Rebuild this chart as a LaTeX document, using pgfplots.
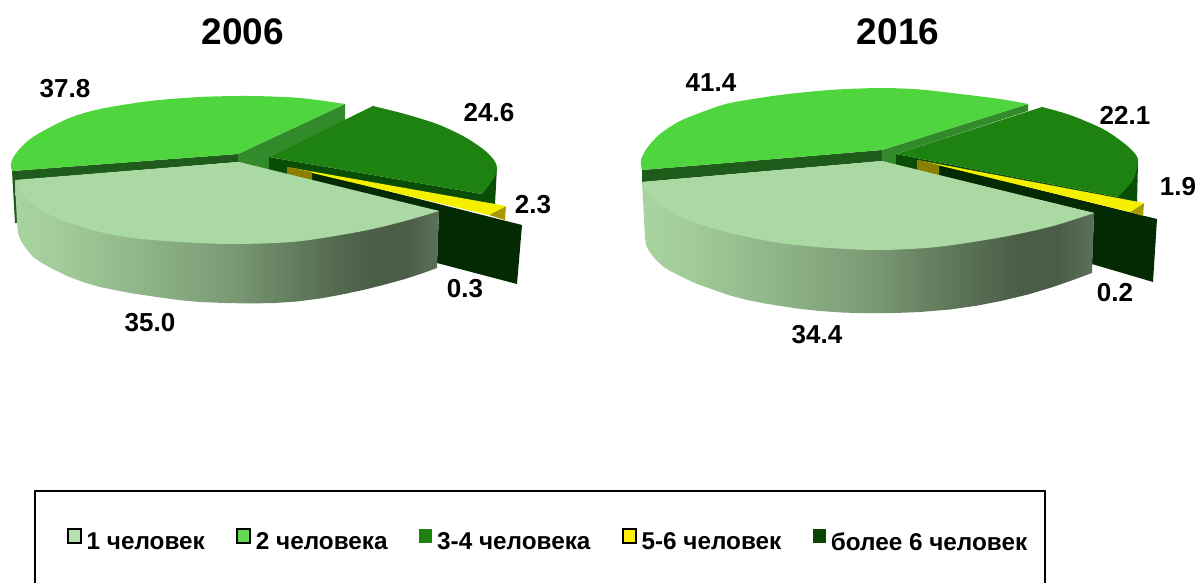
\documentclass[border=0pt]{standalone}
\usepackage{fontspec}
\setmainfont{Liberation Sans}
\usepackage{pgfplots}
\pgfplotsset{compat=1.18}
\definecolor{one}{HTML}{ABD9A3}
\definecolor{two}{HTML}{4FD63F}
\definecolor{twowall}{HTML}{338A2B}
\definecolor{twodark}{HTML}{1F5C1C}
\definecolor{three}{HTML}{1D8210}
\definecolor{threedark}{HTML}{0A4D06}
\definecolor{five}{HTML}{F5F000}
\definecolor{fivewall}{HTML}{A89A00}
\definecolor{fiveolive}{HTML}{8A7F00}
\definecolor{six}{HTML}{032A02}
\definecolor{sa}{HTML}{A8D4A0}
\definecolor{sb}{HTML}{A2CC99}
\definecolor{sc}{HTML}{8FB488}
\definecolor{sd}{HTML}{7B9B75}
\definecolor{se}{HTML}{5C7458}
\definecolor{sf}{HTML}{4A5D46}
\definecolor{sg}{HTML}{5D7058}
\pgfdeclarehorizontalshading{sidewall}{100bp}{
  color(0bp)=(sa);color(25bp)=(sa);color(30bp)=(sb);
  color(40bp)=(sc);color(50bp)=(sd);color(60bp)=(se);
  color(67bp)=(sf);color(71bp)=(sf);color(75bp)=(sg);color(100bp)=(sg)}
\newcommand{\lab}[3]{\node[font=\fontsize{26}{28}\selectfont\bfseries] at (axis cs:#1,#2) {#3};}
\newcommand{\ttl}[2]{\node[font=\fontsize{37}{40}\selectfont\bfseries] at (axis cs:#1,32) {#2};}
\begin{document}
\begin{tikzpicture}
\begin{axis}[
  width=1198pt, height=583pt, scale only axis,
  xmin=0, xmax=1198, ymin=0, ymax=583, y dir=reverse,
  hide axis, clip=false, no markers,
  every axis plot/.append style={draw=none, line width=0pt},
  legend columns=5,
  legend cell align=left,
  legend image code/.code={\path[#1] (0pt,-1pt) rectangle (13pt,13pt);},
  legend style={draw=none, fill=none, at={(axis cs:64,541)}, anchor=west,
    font=\fontsize{24.3}{26}\selectfont\bfseries,
    /tikz/every even column/.append style={column sep=29.6pt},
    /tikz/every odd column/.append style={column sep=3pt}},
]
% ---- 2006
\addplot[fill=twodark, forget plot] coordinates {(12,171) (238,154) (238,162) (18,180) (18,223) (15,223)};
\addplot[fill=twowall, forget plot] coordinates {(238,154) (345,104) (345,120) (269,157) (269,170) (238,162)};
\addplot[fill=two, forget plot] coordinates {(12,171) (238,154) (345,104) (150,110)};
\addplot[fill=two, smooth, forget plot] coordinates {(12,171) (11,163) (17,152) (33,137) (67,119) (100,109) (150,101) (200,97) (250,96) (300,98) (345,104)};
\addplot[fill=threedark, forget plot] coordinates {(269,157) (482,194) (497,167) (495,204) (287,175) (269,170)};
\addplot[fill=three, forget plot] coordinates {(269,157) (373,106) (460,145) (482,194)};
\addplot[fill=three, smooth, forget plot] coordinates {(373,106) (403,113.5) (437,124) (463,136) (483,149) (494,160) (497,168) (494,178) (482,194)};
\addplot[fill=six, forget plot] coordinates {(312,172) (522,225) (517,284) (437,263) (439,211) (312,182)};
\addplot[fill=fivewall, forget plot] coordinates {(506,206) (505,220) (489,215)};
\addplot[fill=five, forget plot] coordinates {(287,167) (506,206) (489,215)};
\addplot[fill=fiveolive, forget plot] coordinates {(287,167) (312,172) (312,181) (287,175)};
\addplot[shading=sidewall, forget plot] coordinates {(15,180) (17,223) (18,233) (21,241) (25,247) (33,257) (41,262.5) (50,267.5) (67,276) (83,282) (100,287) (117,290.5) (133,293.5) (150,296) (167,298.5) (183,300.5) (200,302) (225,303) (250,303.5) (275,303) (297,301.5) (320,298.5) (342,294.5) (363,290) (385,284.5) (405,279) (422,273.5) (437,268) (439,211) (239,200)};
\addplot[fill=one, forget plot] coordinates {(15,180) (239,162) (439,211) (233,238)};
\addplot[fill=one, smooth, forget plot] coordinates {(15,180) (22,193) (33,205) (48,214) (67,222) (100,232) (133,238) (180,242) (233,244) (297,241.5) (363,231) (405,221) (439,211)};
% ---- 2016
\addplot[fill=twodark, forget plot] coordinates {(642,170) (882,150) (882,161) (642,182)};
\addplot[fill=twowall, forget plot] coordinates {(882,150) (1028,104) (1028,111) (896,154) (896,165) (882,161)};
\addplot[fill=two, forget plot] coordinates {(642,170) (882,150) (1028,104) (830,100)};
\addplot[fill=two, smooth, forget plot] coordinates {(642,170) (641,160) (647,148) (660,134) (680,121) (705,111) (730,103) (780,95) (830,90) (880,88) (920,89.5) (960,94) (1000,99) (1028,104)};
\addplot[fill=threedark, forget plot] coordinates {(896,154) (1118,197) (1138,162) (1137,202) (917,170) (896,165)};
\addplot[fill=three, forget plot] coordinates {(896,154) (1042,107) (1125,150) (1118,197)};
\addplot[fill=three, smooth, forget plot] coordinates {(1042,107) (1070,115) (1103,129) (1125,144) (1136,155) (1138,163) (1133,180) (1118,197)};
\addplot[fill=six, forget plot] coordinates {(939,165) (1157,219) (1153,282) (1092,264) (1094,213) (939,176)};
\addplot[fill=fivewall, forget plot] coordinates {(1144,203) (1143,216) (1130,212)};
\addplot[fill=five, forget plot] coordinates {(917,160) (1144,203) (1130,212)};
\addplot[fill=fiveolive, forget plot] coordinates {(917,160) (939,165) (939,176) (917,170)};
\addplot[shading=sidewall, forget plot] coordinates {(642,182) (645,238) (646,245) (649,251) (655,259) (663,266.5) (671,271.5) (680,276) (697,284) (714,290) (730,295.5) (747,300) (765,303.5) (781,306) (797,308.5) (820,311) (842,312.5) (863,313.2) (890,313.2) (920,312) (950,309.5) (978,305.5) (1003,300.5) (1028,294.5) (1053,287) (1073,280) (1092,273) (1094,213) (880,200)};
\addplot[fill=one, forget plot] coordinates {(642,182) (882,161) (1094,213) (880,245)};
\addplot[fill=one, smooth, forget plot] coordinates {(642,182) (650,197) (663,207) (680,217) (705,226) (730,233) (780,243) (830,248) (880,250) (937,247) (1003,237) (1053,226) (1094,213)};
% ---- legend frame, open at the bottom like the reference
\addplot[draw=black, line width=2pt, forget plot] coordinates {(35,583) (35,491) (1045,491) (1045,583)};
% ---- legend
\addlegendimage{fill=one!85!white, draw=black, line width=1.5pt}
\addlegendentry{1 человек}
\addlegendimage{fill=two!90!white, draw=black, line width=1.5pt}
\addlegendentry{2 человека}
\addlegendimage{fill=three}
\addlegendentry{3-4 человека}
\addlegendimage{fill=yellow, draw=black, line width=1.5pt}
\addlegendentry{5-6 человек}
\addlegendimage{fill=threedark!90!black}
\addlegendentry{более 6 человек}
% ---- titles and value labels
\ttl{243}{2006}
\ttl{898}{2016}
\lab{65}{89}{37.8}
\lab{489}{113}{24.6}
\lab{533}{205}{2.3}
\lab{465}{289}{0.3}
\lab{150}{323}{35.0}
\lab{711}{83}{41.4}
\lab{1125}{115}{22.1}
\lab{1178}{187}{1.9}
\lab{1115}{293}{0.2}
\lab{817}{335}{34.4}
\end{axis}
\pgfresetboundingbox
\path[use as bounding box] (0pt,0pt) rectangle (1198pt,583pt);
\end{tikzpicture}
\end{document}
